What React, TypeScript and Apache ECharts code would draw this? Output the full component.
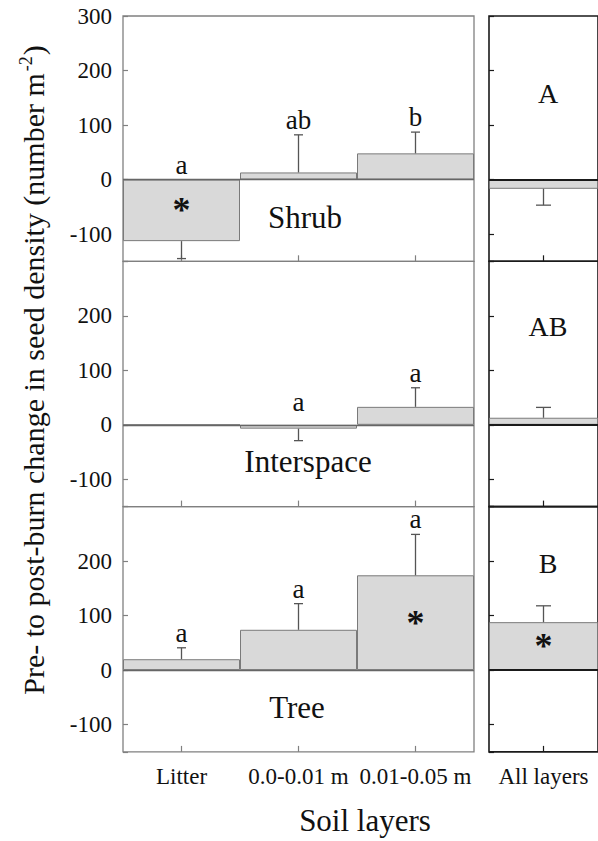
import React, { useEffect, useRef } from "react";
import * as echarts from "echarts";

// ---------- data ----------
const layers = ["Litter", "0.0-0.01 m", "0.01-0.05 m"];
const allLayers = ["All layers"];
const habitats = ["Shrub", "Interspace", "Tree"];

const shrubMean = [-113, 13, 48];
const shrubSE = [32, 69, 39];
const interMean = [0, -7, 33];
const interSE = [0, 22, 35];
const treeMean = [20, 74, 174];
const treeSE = [21, 48, 75];

const allMean = [-17, 13, 88]; // Shrub, Interspace, Tree (all layers pooled)
const allSE = [30, 19, 30];

const shrubLetters = ["a", "ab", "b"];
const interLetters = ["", "a", "a"];
const treeLetters = ["a", "a", "a"];
const allLetters = ["A", "AB", "B"];

const shrubStar = [true, false, false];
const interStar = [false, false, false];
const treeStar = [false, false, true];
const allStar = [false, false, true];

const yMin = -150;
const yMax = 300;
const yLabelsTop = [-100, 0, 100, 200, 300];
const yLabelsOther = [-100, 0, 100, 200];

const yTitle = "Pre- to post-burn change in seed density (number m";
const yTitleSup = "-2";
const xTitle = "Soil layers";

// ---------- layout ----------
const FAMILY = "Liberation Serif, Times New Roman, Times, serif";
const TOP = 16;
const PH = 245.3;
const LX = 123;
const LW = 351;
const RX = 489;
const RW = 117;

const BAR_FILL = "#d9d9d9";
const BAR_EDGE = "#7a7a7a";
const LEFT_FRAME = "#808080";
const RIGHT_FRAME = "#1a1a1a";
const TEXT = "#111";

function buildOption() {
  const grids: any[] = [];
  const xAxes: any[] = [];
  const yAxes: any[] = [];
  const series: any[] = [];
  const graphic: any[] = [];

  const leftPanels = [
    { mean: shrubMean, se: shrubSE, letters: shrubLetters, star: shrubStar },
    { mean: interMean, se: interSE, letters: interLetters, star: interStar },
    { mean: treeMean, se: treeSE, letters: treeLetters, star: treeStar },
  ];

  const addPanel = (
    idx: number,
    left: number,
    width: number,
    top: number,
    cats: string[],
    mean: number[],
    se: number[],
    letters: string[] | null,
    star: boolean[],
    showXLabels: boolean,
    yLabelSet: number[] | null,
    right: boolean,
    capHalf: number
  ) => {
    const frame = right ? RIGHT_FRAME : LEFT_FRAME;
    grids.push({
      left,
      top,
      width,
      height: PH,
      show: true,
      borderColor: frame,
      borderWidth: right ? 1.6 : 1.3,
      backgroundColor: "transparent",
      containLabel: false,
    });
    xAxes.push({
      type: "category",
      gridIndex: idx,
      data: cats,
      position: "bottom",
      axisLine: { show: false, onZero: false },
      axisTick: {
        show: true,
        inside: true,
        alignWithLabel: true,
        length: 6,
        lineStyle: { color: frame, width: 1.2 },
      },
      axisLabel: {
        show: showXLabels,
        interval: 0,
        hideOverlap: false,
        margin: 13,
        fontSize: 23,
        fontFamily: FAMILY,
        color: TEXT,
      },
      splitLine: { show: false },
    });
    yAxes.push({
      type: "value",
      gridIndex: idx,
      min: yMin,
      max: yMax,
      axisLine: { show: false },
      axisTick: {
        show: true,
        inside: true,
        length: 5,
        lineStyle: { color: frame, width: 1.2 },
      },
      axisLabel: {
        show: !!yLabelSet,
        margin: 11,
        fontSize: 23,
        fontFamily: FAMILY,
        color: TEXT,
        formatter: (v: number) =>
          yLabelSet && yLabelSet.indexOf(v) >= 0 ? String(v) : "",
      },
      splitLine: { show: false },
    });

    series.push({
      type: "bar",
      xAxisIndex: idx,
      yAxisIndex: idx,
      barCategoryGap: "0%",
      itemStyle: { color: BAR_FILL, borderColor: BAR_EDGE, borderWidth: 1 },
      data: mean.map((m, i) => ({
        value: m,
        label: star[i]
          ? {
              show: true,
              position: "inside",
              formatter: "*",
              fontSize: 36,
              fontWeight: "bold",
              fontFamily: FAMILY,
              color: TEXT,
            }
          : { show: false },
      })),
      markLine: {
        silent: true,
        symbol: ["none", "none"],
        label: { show: false },
        lineStyle: {
          color: right ? "#1a1a1a" : "#666",
          width: right ? 2 : 1.3,
          type: "solid",
        },
        data: [{ yAxis: 0 }],
      },
      z: 2,
    });

    // error bars
    series.push({
      type: "custom",
      xAxisIndex: idx,
      yAxisIndex: idx,
      z: 4,
      encode: { x: 0, y: 1 },
      data: mean.map((m, i) => [i, m, se[i]]),
      renderItem: (params: any, api: any) => {
        const x = api.value(0);
        const m = api.value(1);
        const s = api.value(2);
        if (!s) return null;
        const end = m >= 0 ? m + s : m - s;
        const p0 = api.coord([x, m]);
        const p1 = api.coord([x, end]);
        const st = { stroke: "#555", lineWidth: 1.3 };
        return {
          type: "group",
          children: [
            {
              type: "line",
              shape: { x1: p0[0], y1: p0[1], x2: p1[0], y2: p1[1] },
              style: st,
            },
            {
              type: "line",
              shape: { x1: p1[0] - capHalf, y1: p1[1], x2: p1[0] + capHalf, y2: p1[1] },
              style: st,
            },
          ],
        };
      },
    });

    if (letters) {
      series.push({
        type: "custom",
        xAxisIndex: idx,
        yAxisIndex: idx,
        z: 5,
        encode: { x: 0, y: 1 },
        data: mean.map((m, i) => [i, m, se[i]]),
        renderItem: (params: any, api: any) => {
          const i = params.dataIndex;
          const txt = letters[i];
          if (!txt) return null;
          const x = api.value(0);
          const anchor = Math.max(0, api.value(1) + api.value(2));
          const p = api.coord([x, anchor]);
          return {
            type: "text",
            x: p[0],
            y: p[1] - 15,
            style: {
              text: txt,
              fontSize: 27,
              fontFamily: FAMILY,
              fill: TEXT,
              align: "center",
              verticalAlign: "middle",
            },
          };
        },
      });
    }
  };

  leftPanels.forEach((p, k) => {
    addPanel(
      k,
      LX,
      LW,
      TOP + k * PH,
      layers,
      p.mean,
      p.se,
      p.letters,
      p.star,
      k === 2,
      k === 0 ? yLabelsTop : yLabelsOther,
      false,
      4.5
    );
  });

  allMean.forEach((m, k) => {
    addPanel(
      3 + k,
      RX,
      RW,
      TOP + k * PH,
      allLayers,
      [m],
      [allSE[k]],
      null,
      [allStar[k]],
      k === 2,
      null,
      true,
      7.5
    );
  });

  // habitat names
  const habPos = [
    [305, 217],
    [308, 461],
    [297, 707],
  ];
  habitats.forEach((h, k) => {
    graphic.push({
      type: "text",
      x: habPos[k][0],
      y: habPos[k][1],
      z: 10,
      style: {
        text: h,
        font: "31px " + FAMILY,
        fill: TEXT,
        align: "center",
        verticalAlign: "middle",
      },
    });
  });

  // overall letters in right panel
  const allPos = [
    [548, 93],
    [548, 326],
    [548, 563],
  ];
  allLetters.forEach((t, k) => {
    graphic.push({
      type: "text",
      x: allPos[k][0],
      y: allPos[k][1],
      z: 10,
      style: {
        text: t,
        font: "28px " + FAMILY,
        fill: TEXT,
        align: "center",
        verticalAlign: "middle",
      },
    });
  });

  // x title
  graphic.push({
    type: "text",
    x: 365,
    y: 820,
    z: 10,
    style: {
      text: xTitle,
      font: "31px " + FAMILY,
      fill: TEXT,
      align: "center",
      verticalAlign: "middle",
    },
  });

  // y title (rotated)
  graphic.push({
    type: "text",
    x: 33,
    y: 370,
    rotation: Math.PI / 2,
    z: 10,
    style: {
      text: "{a|" + yTitle + "}{s|" + yTitleSup + "}{a|)}",
      font: "30px " + FAMILY,
      align: "center",
      verticalAlign: "middle",
      fill: TEXT,
      rich: {
        a: { font: "30px " + FAMILY, fill: TEXT, lineHeight: 32 },
        s: {
          font: "18px " + FAMILY,
          fill: TEXT,
          lineHeight: 18,
          verticalAlign: "top",
          padding: [0, 1, 0, 2],
        },
      },
    },
  });

  return {
    animation: false,
    backgroundColor: "#ffffff",
    textStyle: { fontFamily: FAMILY },
    grid: grids,
    xAxis: xAxes,
    yAxis: yAxes,
    series,
    graphic,
  };
}

export default function App() {
  const ref = useRef<HTMLDivElement>(null);
  useEffect(() => {
    if (!ref.current) return;
    const chart = echarts.init(ref.current, undefined, { renderer: "svg" });
    chart.setOption(buildOption() as any);
    return () => chart.dispose();
  }, []);
  return (
    <div
      ref={ref}
      style={{
        position: "fixed",
        left: 0,
        top: 0,
        width: 598,
        height: 841,
        background: "#fff",
      }}
    />
  );
}
